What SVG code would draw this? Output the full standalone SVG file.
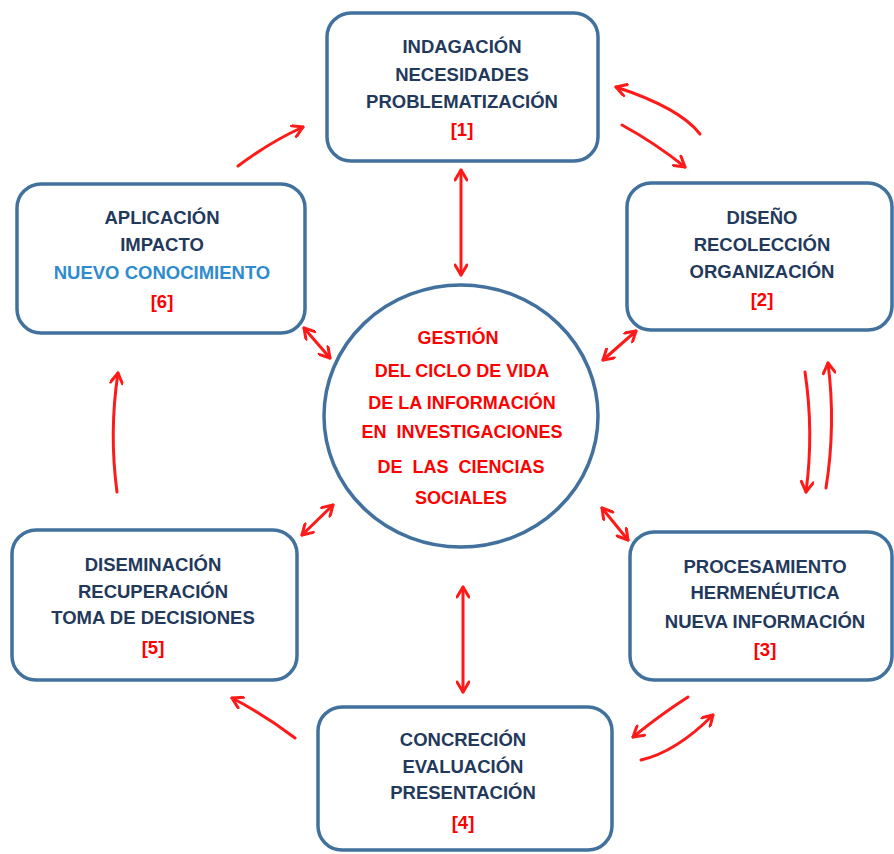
<svg xmlns="http://www.w3.org/2000/svg" width="894" height="854" viewBox="0 0 894 854">
<style>
.box{fill:#fff;stroke:#41719c;stroke-width:3.5}
.t{font-family:"Liberation Sans",Arial,sans-serif;font-weight:bold;font-size:18.5px;text-anchor:middle;fill:#23395b}
.r{fill:#ff0000}
.b{fill:#2e8bd0}
.c{font-family:"Liberation Sans",Arial,sans-serif;font-weight:bold;font-size:18px;text-anchor:middle;fill:#ff0000;white-space:pre}
.a{fill:none;stroke:#ff1a1a;stroke-width:3;stroke-linecap:round}
</style>
<defs>
<marker id="ah" markerUnits="userSpaceOnUse" viewBox="0 0 14 14" refX="12" refY="7" markerWidth="14" markerHeight="14" orient="auto-start-reverse">
<path d="M2,1 L12,7 L2,13" fill="none" stroke="#ff1a1a" stroke-width="3" stroke-linecap="round" stroke-linejoin="round"/>
</marker>
</defs>
<rect width="894" height="854" fill="#fff"/>
<g id="center">
<ellipse cx="461" cy="416" rx="137" ry="131" fill="#fff" stroke="#41719c" stroke-width="3.5"/>
<text class="c" x="458" y="344">GESTIÓN</text>
<text class="c" x="462" y="377">DEL CICLO DE VIDA</text>
<text class="c" x="462" y="409">DE LA INFORMACIÓN</text>
<text class="c" x="462" y="438" xml:space="preserve">EN  INVESTIGACIONES</text>
<text class="c" x="461" y="473" xml:space="preserve">DE  LAS  CIENCIAS</text>
<text class="c" x="461" y="504">SOCIALES</text>
</g>
<g id="n1">
<rect class="box" x="327" y="13" width="271" height="148" rx="24"/>
<text class="t" x="462" y="53">INDAGACIÓN</text>
<text class="t" x="462" y="81">NECESIDADES</text>
<text class="t" x="462" y="108">PROBLEMATIZACIÓN</text>
<text class="t r" x="462" y="136">[1]</text>
</g>
<g id="n2">
<rect class="box" x="627" y="183" width="265" height="147" rx="24"/>
<text class="t" x="762" y="224">DISEÑO</text>
<text class="t" x="762" y="251">RECOLECCIÓN</text>
<text class="t" x="762" y="278">ORGANIZACIÓN</text>
<text class="t r" x="762" y="306">[2]</text>
</g>
<g id="n3">
<rect class="box" x="630" y="532" width="262" height="148" rx="24"/>
<text class="t" x="765" y="573">PROCESAMIENTO</text>
<text class="t" x="765" y="599">HERMENÉUTICA</text>
<text class="t" x="765" y="628">NUEVA INFORMACIÓN</text>
<text class="t r" x="765" y="656">[3]</text>
</g>
<g id="n4">
<rect class="box" x="318" y="707" width="294" height="143" rx="24"/>
<text class="t" x="463" y="746">CONCRECIÓN</text>
<text class="t" x="463" y="773">EVALUACIÓN</text>
<text class="t" x="463" y="799">PRESENTACIÓN</text>
<text class="t r" x="463" y="829">[4]</text>
</g>
<g id="n5">
<rect class="box" x="12" y="530" width="285" height="150" rx="24"/>
<text class="t" x="153" y="571">DISEMINACIÓN</text>
<text class="t" x="153" y="598">RECUPERACIÓN</text>
<text class="t" x="153" y="624">TOMA DE DECISIONES</text>
<text class="t r" x="153" y="654">[5]</text>
</g>
<g id="n6">
<rect class="box" x="17" y="184" width="288" height="149" rx="24"/>
<text class="t" x="162" y="224">APLICACIÓN</text>
<text class="t" x="162" y="251">IMPACTO</text>
<text class="t b" x="162" y="279">NUEVO CONOCIMIENTO</text>
<text class="t r" x="162" y="308">[6]</text>
</g>
<g id="connectors">
<line class="a" x1="461" y1="170" x2="461" y2="275" marker-start="url(#ah)" marker-end="url(#ah)"/>
<line class="a" x1="463" y1="587" x2="463" y2="692" marker-start="url(#ah)" marker-end="url(#ah)"/>
<line class="a" x1="304" y1="328" x2="330" y2="358" marker-start="url(#ah)" marker-end="url(#ah)"/>
<line class="a" x1="603" y1="360" x2="636" y2="331" marker-start="url(#ah)" marker-end="url(#ah)"/>
<line class="a" x1="602" y1="508" x2="628" y2="540" marker-start="url(#ah)" marker-end="url(#ah)"/>
<line class="a" x1="302" y1="535" x2="333" y2="505" marker-start="url(#ah)" marker-end="url(#ah)"/>
<path class="a" d="M622,125 Q655,143 685,167" marker-end="url(#ah)"/>
<path class="a" d="M700,134 Q680,108 616,87" marker-end="url(#ah)"/>
<path class="a" d="M805,372 Q814,432 806,492" marker-end="url(#ah)"/>
<path class="a" d="M826,488 Q836,425 828,363" marker-end="url(#ah)"/>
<path class="a" d="M688,697 Q660,715 633,737" marker-end="url(#ah)"/>
<path class="a" d="M641,760 Q676,752 713,715" marker-end="url(#ah)"/>
<path class="a" d="M295,738 Q265,715 232,698" marker-end="url(#ah)"/>
<path class="a" d="M117,492 Q109,432 118,373" marker-end="url(#ah)"/>
<path class="a" d="M238,166 Q270,142 303,127" marker-end="url(#ah)"/>
</g>
</svg>
